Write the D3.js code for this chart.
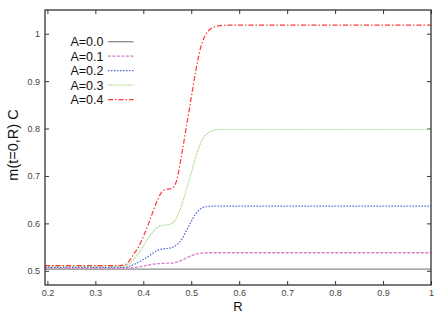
<!DOCTYPE html>
<html><head><meta charset="utf-8">
<script src="https://cdn.jsdelivr.net/npm/d3@7"></script>
<style>body{margin:0;background:#fff;} text{font-family:"Liberation Sans",Arial,sans-serif;}</style>
</head><body>
<svg id="c" width="447" height="313"></svg>
<script>
const rGrid = [0.195,0.30,0.35,0.36,0.37,0.38,0.39,0.40,0.41,0.42,0.43,0.44,0.45,0.46,0.47,0.48,0.49,0.50,0.51,0.52,0.53,0.54,0.55,0.56,0.58,0.60,0.70,1.0];
const seriesNames = ["A=0.0","A=0.1","A=0.2","A=0.3","A=0.4"];
const valsA00 = rGrid.map(() => 0.5036);
const valsA01 = [0.5057,0.5057,0.5057,0.5058,0.506,0.507,0.508,0.510,0.512,0.514,0.515,0.5155,0.516,0.516,0.518,0.522,0.527,0.532,0.535,0.537,0.538,0.538,0.538,0.538,0.538,0.538,0.538,0.538];
const valsA02 = [0.507,0.507,0.507,0.507,0.509,0.513,0.518,0.524,0.530,0.537,0.543,0.546,0.547,0.549,0.555,0.566,0.585,0.604,0.621,0.631,0.635,0.636,0.6365,0.6365,0.6365,0.6365,0.6365,0.6365];
const valsA03 = [0.509,0.509,0.509,0.510,0.514,0.524,0.537,0.552,0.568,0.582,0.592,0.596,0.597,0.600,0.613,0.638,0.672,0.706,0.742,0.770,0.786,0.794,0.797,0.798,0.798,0.798,0.798,0.798];
const valsA04 = [0.511,0.511,0.511,0.512,0.520,0.535,0.550,0.572,0.597,0.624,0.650,0.668,0.672,0.674,0.692,0.745,0.805,0.865,0.925,0.972,0.998,1.010,1.015,1.017,1.018,1.018,1.018,1.018];
const seriesVals = [valsA00,valsA01,valsA02,valsA03,valsA04];
const xTicks = [0.2,0.3,0.4,0.5,0.6,0.7,0.8,0.9,1];
const xTickLabels = ["0.2","0.3","0.4","0.5","0.6","0.7","0.8","0.9","1"];
const yTicks = [0.5,0.6,0.7,0.8,0.9,1];
const yTickLabels = ["0.5","0.6","0.7","0.8","0.9","1"];

const colors = ["#8a8a8a","#d87cc8","#4a68d8","#a6da8c","#ff3838"];
const dashes = [null,"3,1.5","1.5,1.5","1.5,1","5,2,1.5,2"];
const widths = [1.3,1.3,1.2,1.2,1.2];

const L=45, T=10, Rr=431, B=285;
const svg = d3.select("#c");
const x = d3.scaleLinear().domain([0.195,1]).range([L,Rr]);
const y = d3.scaleLinear().domain([0.47,1.05]).range([B,T]);

const ax = "#333";
function styleAxis(g){
  g.select(".domain").remove();
  g.selectAll(".tick line").attr("stroke",ax).attr("stroke-width",1);
  g.selectAll(".tick text").attr("fill","#444").attr("font-size","9px").attr("font-family","Liberation Sans, Arial, sans-serif");
}
svg.append("g").attr("transform",`translate(0,${B})`)
  .call(d3.axisBottom(x).tickValues(xTicks).tickFormat((d,i)=>xTickLabels[i]).tickSizeInner(-4).tickSizeOuter(0).tickPadding(5)).call(styleAxis);
svg.append("g").attr("transform",`translate(0,${T})`)
  .call(d3.axisTop(x).tickValues(xTicks).tickFormat("").tickSizeInner(-4).tickSizeOuter(0)).call(styleAxis);
svg.append("g").attr("transform",`translate(${L},0)`)
  .call(d3.axisLeft(y).tickValues(yTicks).tickFormat((d,i)=>yTickLabels[i]).tickSizeInner(-4).tickSizeOuter(0).tickPadding(5)).call(styleAxis);
svg.append("g").attr("transform",`translate(${Rr},0)`)
  .call(d3.axisRight(y).tickValues(yTicks).tickFormat("").tickSizeInner(-4).tickSizeOuter(0)).call(styleAxis);

const line = d3.line().x(d=>x(d[0])).y(d=>y(d[1])).curve(d3.curveMonotoneX);
const plot = svg.append("g");
seriesVals.forEach((vals,i)=>{
  plot.append("path").datum(rGrid.map((r,j)=>[r,vals[j]]))
    .attr("d",line).attr("fill","none").attr("stroke",colors[i])
    .attr("stroke-width",widths[i]).attr("stroke-dasharray",dashes[i]);
});

svg.append("rect").attr("x",L).attr("y",T).attr("width",Rr-L).attr("height",B-T)
  .attr("fill","none").attr("stroke",ax).attr("stroke-width",1.3);

const leg = svg.append("g");
seriesNames.forEach((n,i)=>{
  const yy = 41.7 + i*14.5;
  leg.append("text").attr("x",103.5).attr("y",yy).attr("dy","0.36em").attr("text-anchor","end")
    .attr("font-size","12.5px").attr("fill","#111").text(n);
  leg.append("line").attr("x1",108).attr("x2",133.5).attr("y1",yy).attr("y2",yy)
    .attr("stroke",colors[i]).attr("stroke-width",widths[i]).attr("stroke-dasharray",dashes[i]);
});

svg.append("text").attr("x",238).attr("y",310.5).attr("text-anchor","middle")
  .attr("font-size","13px").attr("fill","#111").text("R");
svg.append("text").attr("transform","translate(13,145) rotate(-90)").attr("dy","0.36em").attr("text-anchor","middle")
  .attr("font-size","14.5px").attr("fill","#111").text("m(t=0,R) C");
</script>
</body></html>
